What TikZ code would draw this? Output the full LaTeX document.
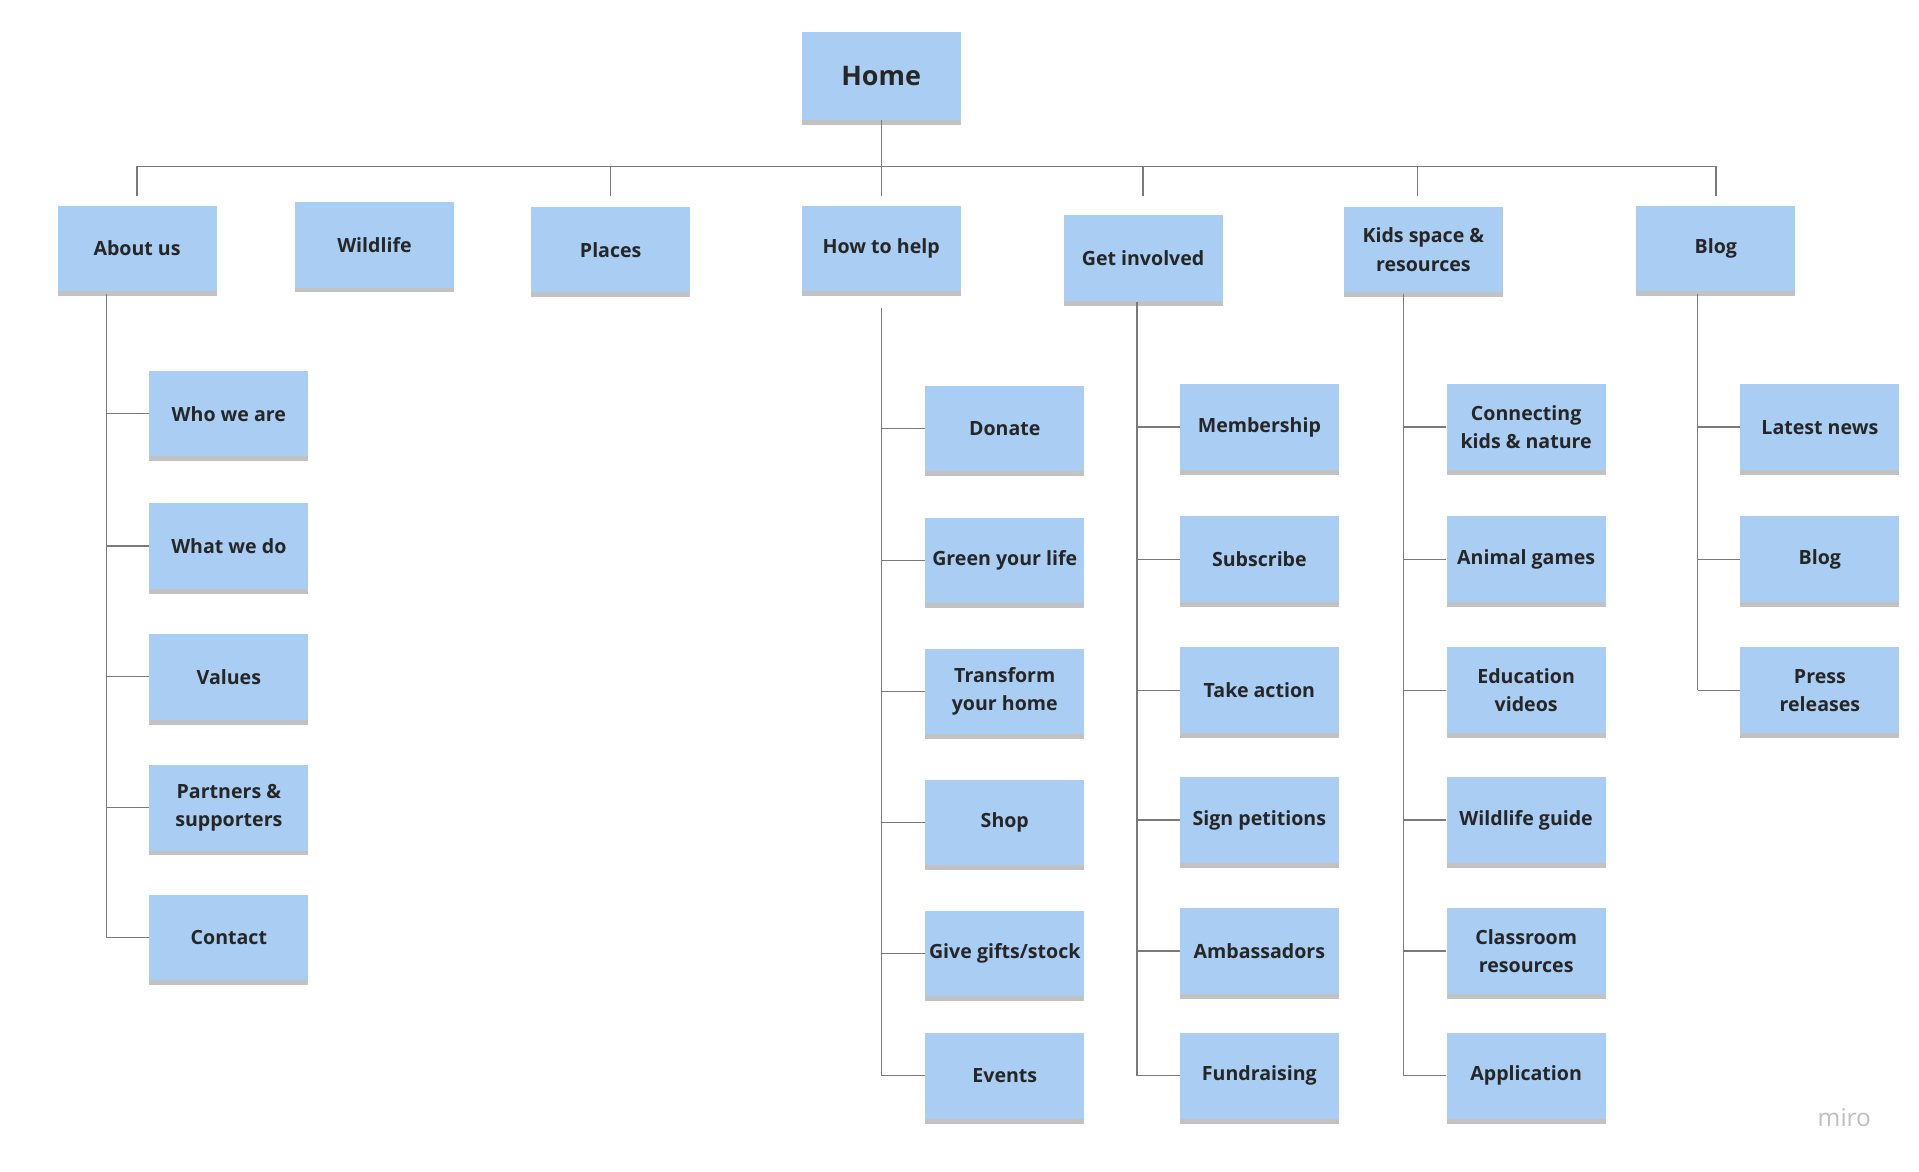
\documentclass[tikz,border=0pt]{standalone}
\usepackage{fontspec}
\setmainfont{Open Sans}
\usetikzlibrary{shadows}
\definecolor{sticky}{HTML}{A9CDF3}
\definecolor{ln}{HTML}{7A7A7A}
\tikzset{
 note/.style={fill=sticky, minimum width=130pt, minimum height=70pt, inner sep=1pt, align=center, font=\bfseries\fontsize{16}{23}\selectfont, text=black!85,
   drop shadow={shadow xshift=0pt, shadow yshift=-4pt, opacity=.4, fill=black!60}},
 edge/.style={draw=ln, line width=1.1pt},
}
\begin{document}
\begin{tikzpicture}[x=1pt,y=-1pt]
\useasboundingbox (0,0) rectangle (1568,957);
\node[note, minimum height=72pt, font=\bfseries\fontsize{22}{26}\selectfont] (home) at (720,62) {Home};
\node[note] (about) at (112,203) {About us};
\node[note] (wild) at (306,200) {Wildlife};
\node[note] (places) at (499,204) {Places};
\node[note] (help) at (720,203) {How to help};
\node[note] (get) at (934,211) {Get involved};
\node[note] (kids) at (1163,204) {Kids space \&\\resources};
\node[note] (blog) at (1402,203) {Blog};
% bar
\coordinate (b0) at (720,136);
\draw[edge] (home.south) -- (b0);
\draw[edge] (112,136) -- (1402,136);
\foreach \n/\x in {about/112,places/499,help/720,get/934,kids/1158,blog/1402}
  \draw[edge] (\x,136) -- (\x,160);
% columns
\foreach \nm/\cx/\tx/\lst in {
  a/187/87/{338/Who we are,446/What we do,553/Values,660/Partners \&\\supporters,766/Contact},
  h/821/720/{350/Donate,458/Green your life,565/Transform\\your home,672/Shop,779/{Give gifts/stock},879/Events},
  g/1029/929/{349/Membership,457/Subscribe,564/Take action,670/Sign petitions,777/Ambassadors,879/Fundraising},
  k/1247/1147/{349/Connecting\\kids \& nature,457/Animal games,564/Education\\videos,670/Wildlife guide,777/Classroom\\resources,879/Application},
  b/1487/1387/{349/Latest news,457/Blog,564/Press\\releases}}{
  \foreach \y/\t [count=\i] in \lst {
    \node[note] (\nm\i) at (\cx,\y) {\t};
    \coordinate (\nm t\i) at (\tx,\y);
    \draw[edge] (\nm t\i) -- (\nm\i.west);
  }
}
\draw[edge] (87,240) -- (at5);
\draw[edge] (720,252) -- (ht6);
\draw[edge] (929,247) -- (gt6);
\draw[edge] (1147,240) -- (kt6);
\draw[edge] (1387,240) -- (bt3);
\node[text=black!25, font=\fontsize{20}{22}\selectfont] (miro) at (1507,913) {miro};
\end{tikzpicture}
\end{document}
